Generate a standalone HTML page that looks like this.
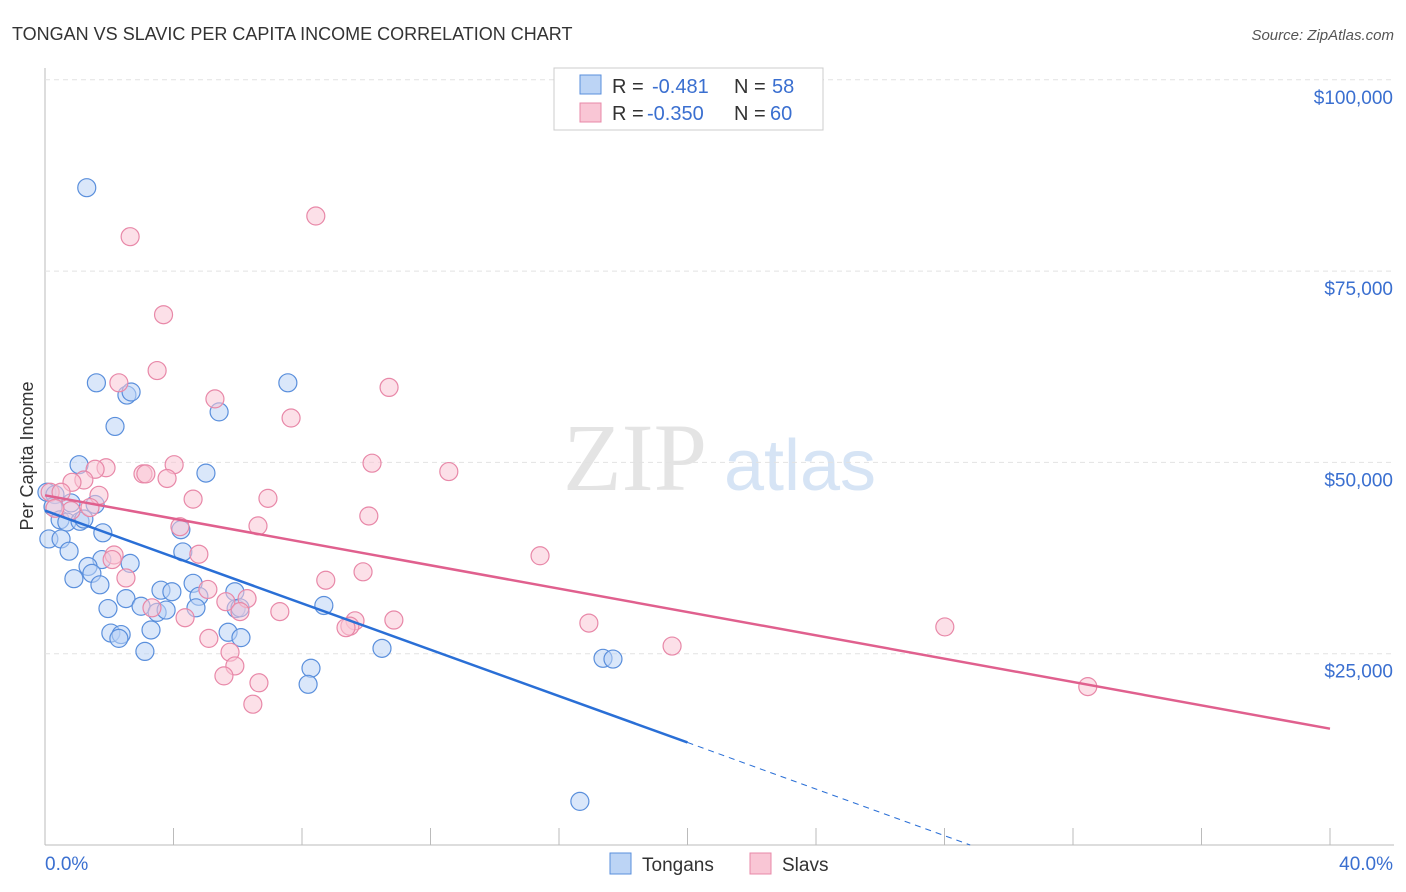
<!DOCTYPE html>
<html><head><meta charset="utf-8"><style>
body{margin:0;background:#fff;font-family:"Liberation Sans",sans-serif}
svg{display:block}
</style></head><body>
<svg id="c" width="1406" height="892">
<text x="12" y="40" font-size="18" fill="#333">TONGAN VS SLAVIC PER CAPITA INCOME CORRELATION CHART</text>
<text x="1394" y="40" font-size="15" fill="#555" font-style="italic" text-anchor="end">Source: ZipAtlas.com</text>
<text x="33" y="456" font-size="18" fill="#333" transform="rotate(-90 33 456)" text-anchor="middle">Per Capita Income</text>
<g><text x="635" y="490" font-size="96" fill="#e4e4e4" font-family="Liberation Serif" text-anchor="middle">ZIP</text><text x="800" y="490" font-size="72" fill="#d6e4f5" text-anchor="middle">atlas</text></g>
<g id="grid"></g><g id="pts"></g><g id="lines"></g>
<g>
<rect x="554" y="68" width="269" height="62" fill="#fff" stroke="#ccc"/>
<rect x="580" y="75" width="21" height="19" fill="#bcd4f5" stroke="#5a8fdc"/>
<rect x="580" y="103" width="21" height="19" fill="#f9c6d5" stroke="#e888a8"/>
<text x="612" y="93" font-size="20" fill="#333">R =</text><text x="652" y="93" font-size="20" fill="#3a6fd0">-0.481</text>
<text x="734" y="93" font-size="20" fill="#333">N =</text><text x="772" y="93" font-size="20" fill="#3a6fd0">58</text>
<text x="612" y="120" font-size="20" fill="#333">R =</text><text x="647" y="120" font-size="20" fill="#3a6fd0">-0.350</text>
<text x="734" y="120" font-size="20" fill="#333">N =</text><text x="770" y="120" font-size="20" fill="#3a6fd0">60</text>
</g>
<g>
<rect x="610" y="853" width="21" height="21" fill="#bcd4f5" stroke="#5a8fdc"/><text x="642" y="871" font-size="19" fill="#333">Tongans</text>
<rect x="750" y="853" width="21" height="21" fill="#f9c6d5" stroke="#e888a8"/><text x="782" y="871" font-size="19" fill="#333">Slavs</text>
</g>
<text x="45" y="870" font-size="19" fill="#3a6fd0">0.0%</text>
<text x="1393" y="870" font-size="19" fill="#3a6fd0" text-anchor="end">40.0%</text>
</svg>
<script>
const yTicks=[25000,50000,75000,100000];
const yTickLabels=["$25,000","$50,000","$75,000","$100,000"];
const tongX=[1.3,1.6,2.55,2.68,2.18,1.06,5.01,5.42,7.56,0.06,0.31,0.25,1.56,0.81,0.47,0.68,1.09,1.21,1.8,0.12,0.5,0.75,1.77,1.34,1.46,2.65,0.9,1.71,4.29,4.23,3.61,3.95,4.61,4.79,5.91,2.52,1.96,2.99,3.49,3.77,4.7,5.95,6.07,2.05,2.37,2.3,3.3,5.7,6.1,3.11,8.68,10.49,8.28,8.19,17.37,17.68,16.65];
const tongY=[85900,60400,58800,59200,54700,49700,48600,56600,60400,46100,45800,44200,44500,44700,42500,42200,42300,42600,40800,40000,40000,38400,37300,36400,35500,36800,34800,34000,38300,41200,33300,33100,34200,32500,33100,32200,30900,31200,30400,30700,31000,30900,31000,27700,27500,27000,28100,27800,27100,25300,31300,25700,23100,21000,24400,24300,5700];
const slavX=[8.43,2.65,3.69,3.49,2.3,10.71,5.29,7.66,10.18,12.57,4.02,1.9,1.56,3.05,3.14,3.8,1.21,0.84,4.61,6.94,0.16,0.5,1.68,1.4,0.81,0.31,4.2,6.63,10.08,2.15,4.79,2.09,15.41,9.9,2.52,8.74,5.07,6.29,5.63,3.33,4.36,6.07,7.31,9.65,9.49,10.86,9.37,5.1,16.93,19.52,28.01,5.76,5.91,5.57,6.66,6.47,32.46];
const slavY=[82200,79500,69300,62000,60400,59800,58300,55800,49900,48800,49700,49300,49100,48500,48500,47900,47700,47400,45200,45300,46100,46100,45700,44100,43700,44000,41600,41700,43000,37900,38000,37300,37800,35700,34900,34600,33400,32200,31800,31000,29700,30500,30500,29300,28600,29400,28400,27000,29000,26000,28500,25200,23400,22100,21200,18400,20700];
const NS="http://www.w3.org/2000/svg";
const X=v=>45+v*32.125, Y=v=>845-v/25000*191.3;
function mk(t,a,p){const e=document.createElementNS(NS,t);for(const k in a)e.setAttribute(k,a[k]);p.appendChild(e);return e;}
const g=document.getElementById('grid');
const ax=mk('line',{x1:45,y1:68,x2:45,y2:845,stroke:'#bbb'},g);


const bx=mk('line',{x1:45,y1:845,x2:1394,y2:845,stroke:'#bbb'},g);


yTicks.forEach((t,i)=>{
 const l=mk('line',{x1:45,y1:Y(t),x2:1394,y2:Y(t),stroke:'#e2e2e2','stroke-dasharray':'5,4'},g);
 
 
 const tx=mk('text',{x:1393,y:Y(t)+24,'font-size':19,fill:'#3a6fd0','text-anchor':'end'},g);
 tx.textContent=yTickLabels[i];
 
 
});
for(let i=0;i<=10;i++){const l=mk('line',{x1:X(i*4),y1:828,x2:X(i*4),y2:845,stroke:'#bbb'},g);
 
 }
const p=document.getElementById('pts');
function dots(xs,ys,f,s,n){xs.forEach((x,i)=>{const c=mk('circle',{cx:X(x),cy:Y(ys[i]),r:9,fill:f,'fill-opacity':0.55,stroke:s,'stroke-width':1.2},p);
 
 });}
dots(tongX,tongY,'#bcd4f5','#5a8fdc','tongan-point');
dots(slavX,slavY,'#f9c6d5','#e888a8','slav-point');
const L=document.getElementById('lines');
const t1=mk('line',{x1:X(0),y1:Y(43700),x2:X(20),y2:Y(13400),stroke:'#2a6fd6','stroke-width':2.5},L);


const t2=mk('line',{x1:X(20),y1:Y(13400),x2:X(28.8),y2:Y(0),stroke:'#2a6fd6','stroke-width':1,'stroke-dasharray':'6,5'},L);


const t3=mk('line',{x1:X(0),y1:Y(45700),x2:X(40),y2:Y(15200),stroke:'#e0608e','stroke-width':2.5},L);


</script>
</body></html>
